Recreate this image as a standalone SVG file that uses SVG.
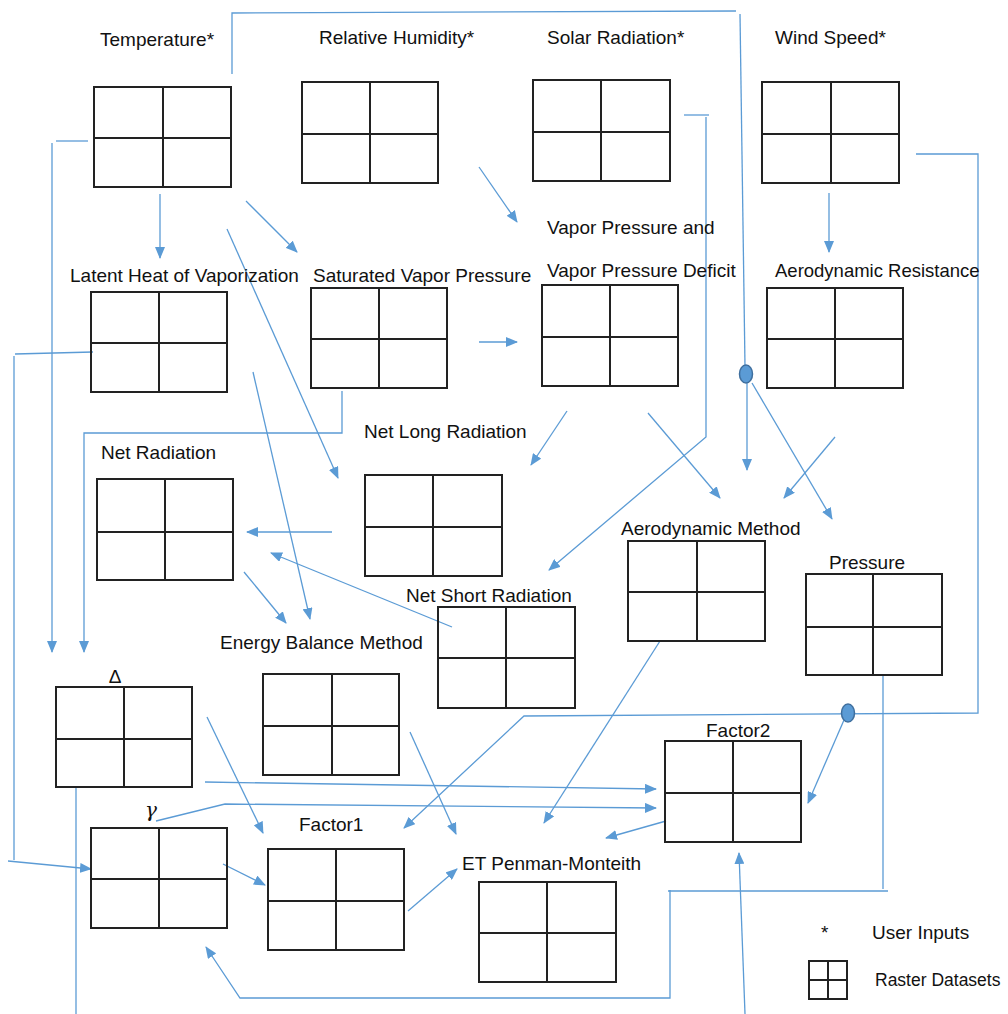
<svg xmlns="http://www.w3.org/2000/svg" width="1008" height="1014" viewBox="0 0 1008 1014">
<style>
.lbl{font-family:"Liberation Sans",Arial,sans-serif;font-size:19px;fill:#111}
.grid rect{fill:none;stroke:#222;stroke-width:2}
.grid path{fill:none;stroke:#222;stroke-width:2}
.c path,.c line{fill:none;stroke:#5b9bd5;stroke-width:1.3}
.a{marker-end:url(#ah)}
.dot{fill:#5b9bd5;stroke:#3f6f9e;stroke-width:1.5}
</style>
<defs>
<marker id="ah" viewBox="0 0 12 10" markerWidth="12" markerHeight="10" refX="11" refY="5" orient="auto" markerUnits="userSpaceOnUse">
<path d="M0,0 L12,5 L0,10 z" fill="#5b9bd5"/>
</marker>
</defs>
<rect width="1008" height="1014" fill="#fff"/>

<g id="connectors" class="c">
<path class="a" d="M160,194 V258"/>
<path class="a" d="M246,201 L297,252"/>
<path class="a" d="M227,229 L338,478"/>
<path d="M88,141 H56"/>
<path class="a" d="M52,143 V652"/>
<path d="M232,74 V13 L736,11"/>
<path d="M740,14 L745,366"/>
<path class="a" d="M479,167 L517,222"/>
<path d="M684,115 H709"/>
<path class="a" d="M706,117 V437 L549,570"/>
<path class="a" d="M829,193 V252"/>
<path class="a" d="M916,154 H978 V713 L524,716 L404,828"/>
<path class="a" d="M844,720 L808,803"/>
<path class="a" d="M479,342 H517"/>
<path class="a" d="M342,391 V433 H84 V652"/>
<path d="M93,352 L15,354"/>
<path d="M14,356 V860"/>
<path class="a" d="M8,861 L91,869"/>
<path class="a" d="M253,372 L310,619"/>
<path class="a" d="M567,411 L531,465"/>
<path class="a" d="M648,413 L720,498"/>
<path class="a" d="M747,383 V470"/>
<path class="a" d="M752,383 L832,519"/>
<path class="a" d="M835,437 L784,498"/>
<path class="a" d="M332,532 H247"/>
<path class="a" d="M452,627 L271,553"/>
<path class="a" d="M244,572 L286,623"/>
<path class="a" d="M207,717 L263,833"/>
<path class="a" d="M410,732 L456,834"/>
<path class="a" d="M205,782 L656,789"/>
<path class="a" d="M156,821 L225,804 L656,808"/>
<path class="a" d="M223,864 L265,885"/>
<path class="a" d="M408,911 L457,869"/>
<path class="a" d="M660,641 L544,823"/>
<path class="a" d="M666,821 L606,838"/>
<path class="a" d="M745,1014 L739,853"/>
<path d="M883,675 V889"/>
<path d="M888,891 H668"/>
<path class="a" d="M670,890 V998 H240 L206,947"/>
<path d="M76,788 V1014"/>
<ellipse class="dot" cx="746" cy="374" rx="6.5" ry="9"/>
<ellipse class="dot" cx="848" cy="713" rx="6.5" ry="9"/>
</g>

<g id="temperature" class="grid"><rect x="94" y="87" width="137" height="100"/><path d="M163,87 V187 M94,138 H231"/><text class="lbl" x="100" y="46">Temperature*</text></g>
<g id="relative-humidity" class="grid"><rect x="302" y="82" width="136" height="101"/><path d="M370,82 V183 M302,134 H438"/><text class="lbl" x="319" y="44">Relative Humidity*</text></g>
<g id="solar-radiation" class="grid"><rect x="533" y="80" width="137" height="101"/><path d="M601,80 V181 M533,132 H670"/><text class="lbl" x="547" y="44">Solar Radiation*</text></g>
<g id="wind-speed" class="grid"><rect x="762" y="82" width="137" height="101"/><path d="M831,82 V183 M762,134 H899"/><text class="lbl" x="775" y="44">Wind Speed*</text></g>
<g id="latent-heat" class="grid"><rect x="91" y="292" width="136" height="100"/><path d="M159,292 V392 M91,343 H227"/><text class="lbl" x="70" y="282">Latent Heat of Vaporization</text></g>
<g id="saturated-vapor-pressure" class="grid"><rect x="311" y="288" width="136" height="100"/><path d="M379,288 V388 M311,339 H447"/><text class="lbl" x="313" y="282">Saturated Vapor Pressure</text></g>
<g id="vapor-pressure-deficit" class="grid"><rect x="542" y="285" width="136" height="101"/><path d="M610,285 V386 M542,337 H678"/><text class="lbl" x="547" y="234">Vapor Pressure and</text><text class="lbl" x="547" y="277">Vapor Pressure Deficit</text></g>
<g id="aerodynamic-resistance" class="grid"><rect x="767" y="288" width="136" height="100"/><path d="M835,288 V388 M767,339 H903"/><text class="lbl" x="775" y="277" style="font-size:18.5px">Aerodynamic Resistance</text></g>
<g id="net-radiation" class="grid"><rect x="97" y="479" width="136" height="101"/><path d="M165,479 V580 M97,532 H233"/><text class="lbl" x="101" y="459">Net Radiation</text></g>
<g id="net-long-radiation" class="grid"><rect x="365" y="475" width="137" height="101"/><path d="M433,475 V576 M365,527 H502"/><text class="lbl" x="364" y="438">Net Long Radiation</text></g>
<g id="aerodynamic-method" class="grid"><rect x="628" y="541" width="137" height="100"/><path d="M697,541 V641 M628,592 H765"/><text class="lbl" x="621" y="535">Aerodynamic Method</text></g>
<g id="pressure" class="grid"><rect x="806" y="574" width="136" height="101"/><path d="M873,574 V675 M806,627 H942"/><text class="lbl" x="829" y="569">Pressure</text></g>
<g id="net-short-radiation" class="grid"><rect x="438" y="607" width="137" height="101"/><path d="M506,607 V708 M438,658 H575"/><text class="lbl" x="406" y="602">Net Short Radiation</text></g>
<g id="energy-balance-method" class="grid"><rect x="263" y="674" width="136" height="101"/><path d="M332,674 V775 M263,726 H399"/><text class="lbl" x="220" y="649">Energy Balance Method</text></g>
<g id="delta" class="grid"><rect x="56" y="687" width="136" height="100"/><path d="M124,687 V787 M56,739 H192"/><text class="lbl" x="115" y="683" text-anchor="middle">Δ</text></g>
<g id="factor2" class="grid"><rect x="665" y="741" width="136" height="101"/><path d="M733,741 V842 M665,793 H801"/><text class="lbl" x="706" y="737">Factor2</text></g>
<g id="gamma" class="grid"><rect x="91" y="828" width="136" height="100"/><path d="M159,828 V928 M91,879 H227"/><text x="145" y="817" style="font-family:'DejaVu Serif','Liberation Serif',serif;font-style:italic;font-size:20px;fill:#111">γ</text></g>
<g id="factor1" class="grid"><rect x="268" y="849" width="136" height="101"/><path d="M336,849 V950 M268,901 H404"/><text class="lbl" x="299" y="831">Factor1</text></g>
<g id="et-penman-monteith" class="grid"><rect x="479" y="882" width="137" height="100"/><path d="M547,882 V982 M479,933 H616"/><text class="lbl" x="462" y="870">ET Penman-Monteith</text></g>
<g id="legend" class="grid"><text class="lbl" x="821" y="939">*</text><text class="lbl" x="872" y="939">User Inputs</text><rect x="809" y="961" width="38" height="38"/><path d="M828,961 V999 M809,980 H847"/><text class="lbl" x="875" y="986" style="font-size:17.5px">Raster Datasets</text></g>
</svg>
